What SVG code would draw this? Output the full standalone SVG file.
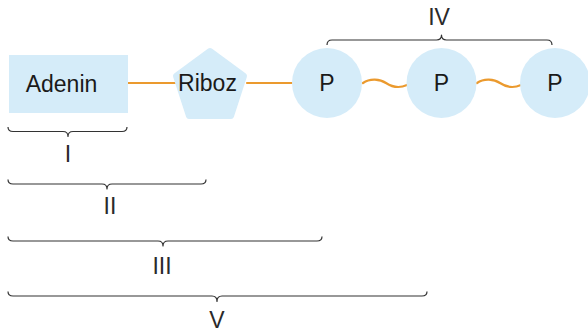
<svg xmlns="http://www.w3.org/2000/svg" width="588" height="332" viewBox="0 0 588 332">
<style>
.shape{fill:#d5ecf9;}
.lbl{font-family:"Liberation Sans",Arial,sans-serif;font-size:23px;fill:#1a1a1a;text-anchor:middle;}
.rom{font-family:"Liberation Sans",Arial,sans-serif;font-size:23px;fill:#2a2a2a;text-anchor:middle;}
.bond{fill:none;stroke:#eb9a2e;stroke-width:2.2;stroke-linecap:round;}
.brace{fill:none;stroke:#333;stroke-width:1.2;stroke-linejoin:round;}
</style>
<rect width="588" height="332" fill="#fff"/>
<g id="connectors">
<line class="bond" x1="128" y1="83" x2="175" y2="83"/>
<line class="bond" x1="247" y1="83" x2="292" y2="83"/>
<path class="bond" d="M363,83 C370,78 380,79 386,83 S398,89 407,85"/>
<path class="bond" d="M477,83 C484,78 494,79 500,83 S512,89 521,85"/>
</g>
<g id="adenin">
<rect class="shape" x="9" y="55" width="119" height="58"/>
<text class="lbl" x="61.5" y="92">Adenin</text>
</g>
<g id="riboz">
<polygon class="shape" stroke="#d5ecf9" stroke-width="6" stroke-linejoin="round" points="210,51 244,76 231,116 189,116 176,76"/>
<text class="lbl" x="207.5" y="91">Riboz</text>
</g>
<g id="p1">
<circle class="shape" cx="327" cy="83" r="35"/>
<text class="lbl" x="327" y="91">P</text>
</g>
<g id="p2">
<circle class="shape" cx="441.5" cy="83" r="35"/>
<text class="lbl" x="441.5" y="91">P</text>
</g>
<g id="p3">
<circle class="shape" cx="555" cy="83" r="35"/>
<text class="lbl" x="555" y="91">P</text>
</g>
<g id="brace-IV">
<path class="brace" d="M327,45 Q327,40 332,40 L436.5,40 Q441.5,40 441.5,35 Q441.5,40 446.5,40 L547,40 Q552,40 552,45"/>
<text class="rom" x="439" y="25">IV</text>
</g>
<g id="brace-I">
<path class="brace" d="M8,127 Q8,131.5 13,131.5 L63,131.5 Q68,131.5 68,136.5 Q68,131.5 73,131.5 L122,131.5 Q127,131.5 127,127"/>
<text class="rom" x="68" y="162">I</text>
</g>
<g id="brace-II">
<path class="brace" d="M8,179.5 Q8,184 13,184 L102,184 Q107,184 107,189 Q107,184 112,184 L201,184 Q206,184 206,179.5"/>
<text class="rom" x="110" y="214">II</text>
</g>
<g id="brace-III">
<path class="brace" d="M8,236.5 Q8,241 13,241 L158,241 Q163,241 163,246 Q163,241 168,241 L317,241 Q322,241 322,236.5"/>
<text class="rom" x="162" y="274">III</text>
</g>
<g id="brace-V">
<path class="brace" d="M8,291.5 Q8,296 13,296 L212,296 Q217,296 217,301.5 Q217,296 222,296 L422,296 Q427,296 427,291.5"/>
<text class="rom" x="217" y="328">V</text>
</g>
</svg>
